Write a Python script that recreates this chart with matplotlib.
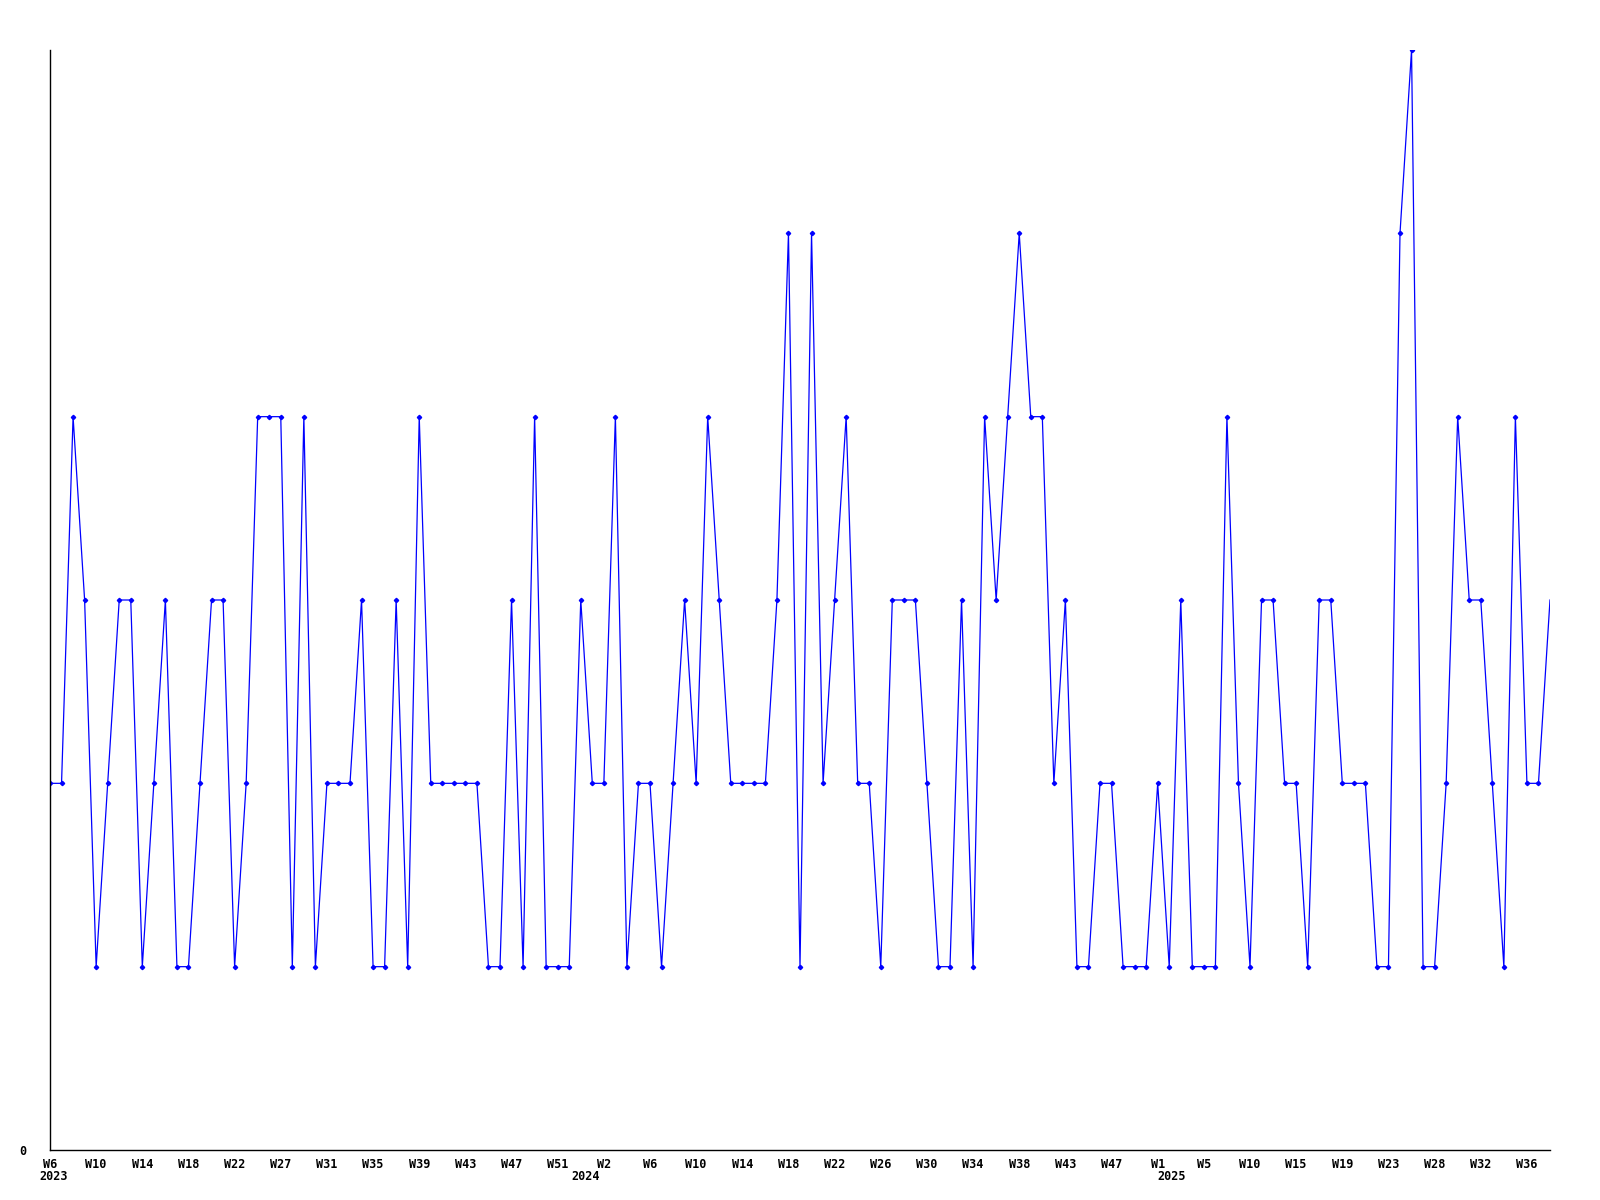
import matplotlib
matplotlib.use("Agg")
import matplotlib.pyplot as plt

# weekly counts, 2023 W6 onwards
values = [2, 2, 4, 3, 1, 2, 3, 3, 1, 2,
          3, 1, 1, 2, 3, 3, 1, 2, 4, 4,
          4, 1, 4, 1, 2, 2, 2, 3, 1, 1,
          3, 1, 4, 2, 2, 2, 2, 2, 1, 1,
          3, 1, 4, 1, 1, 1, 3, 2, 2, 4,
          1, 2, 2, 1, 2, 3, 2, 4, 3, 2,
          2, 2, 2, 3, 5, 1, 5, 2, 3, 4,
          2, 2, 1, 3, 3, 3, 2, 1, 1, 3,
          1, 4, 3, 4, 5, 4, 4, 2, 3, 1,
          1, 2, 2, 1, 1, 1, 2, 1, 3, 1,
          1, 1, 4, 2, 1, 3, 3, 2, 2, 1,
          3, 3, 2, 2, 2, 1, 1, 5, 6, 1,
          1, 2, 4, 3, 3, 2, 1, 4, 2, 2,
          3]
weeks = list(range(len(values)))

# x tick labels, one every 4 points
tick_pos = list(range(0, 129, 4))
tick_labels = ['W6', 'W10', 'W14', 'W18', 'W22', 'W27', 'W31', 'W35', 'W39', 'W43', 'W47', 'W51',
               'W2', 'W6', 'W10', 'W14', 'W18', 'W22', 'W26', 'W30', 'W34', 'W38', 'W43', 'W47',
               'W1', 'W5', 'W10', 'W15', 'W19', 'W23', 'W28', 'W32', 'W36']
years = ['2023', '2024', '2025']
year_pos = [0.3, 46.4, 97.2]

font = dict(family='DejaVu Sans Mono', weight='bold', size=8.5)

fig = plt.figure(figsize=(16, 12), dpi=100)
ax = fig.add_axes([50 / 1600, 50 / 1200, 1500 / 1600, 1100 / 1200])

ax.plot(weeks, values, color='#0000ff', linewidth=0.9)
ax.plot(weeks[:-1], values[:-1], linestyle='none', marker='D', markersize=2.2,
        color='#0000ff')

ax.set_xlim(0, len(values) - 1)
ax.set_ylim(0, 6)

ax.spines['top'].set_visible(False)
ax.spines['right'].set_visible(False)
for s in ('left', 'bottom'):
    ax.spines[s].set_color('black')
    ax.spines[s].set_linewidth(1.0)

ax.set_xticks(tick_pos)
ax.set_xticklabels(tick_labels, fontdict=font)
ax.set_yticks([0])
ax.set_yticklabels(['0'], fontdict=font)
ax.tick_params(axis='x', length=0, pad=6)
ax.tick_params(axis='y', length=0, pad=17)

for label, x in zip(years, year_pos):
    ax.text(x, -27 / 1100, label, transform=ax.get_xaxis_transform(),
            ha='center', va='center', **font)

fig.savefig('out.png', dpi=100, facecolor='white')
